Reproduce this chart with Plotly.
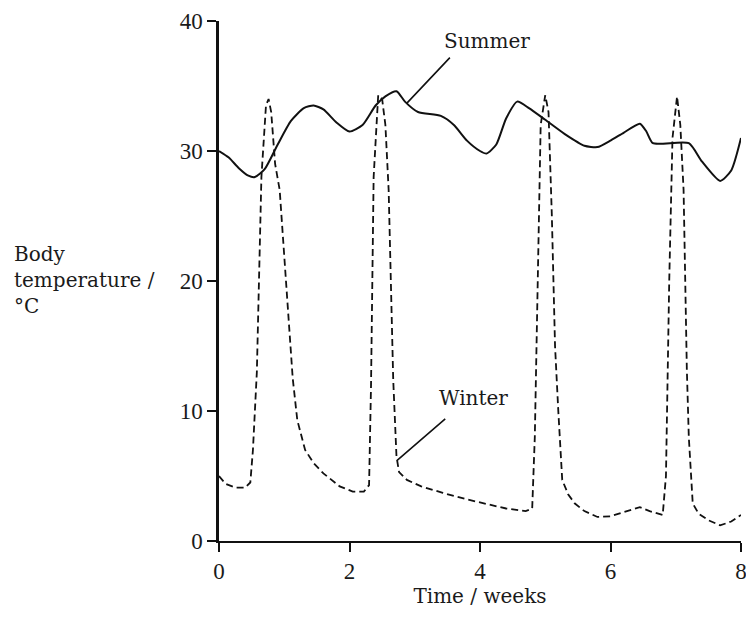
import numpy as np
import plotly.graph_objects as go

# Summer body temperature (solid line)
summer_weeks = [0, 0.15, 0.3, 0.45, 0.55, 0.7, 0.9, 1.1, 1.3, 1.45, 1.6, 1.8, 2.0, 2.2, 2.4, 2.55,
                2.72, 2.85, 3.05, 3.4, 3.6, 3.8, 4.0, 4.1, 4.25, 4.4, 4.57, 4.75, 5.0, 5.3, 5.6,
                5.8, 6.0, 6.2, 6.45, 6.55, 6.65, 7.2, 7.4, 7.68, 7.85, 8.0]
summer_temp = [30, 29.5, 28.7, 28.1, 28.0, 28.6, 30.5, 32.3, 33.3, 33.5, 33.2, 32.2, 31.5, 32.0, 33.5, 34.2,
               34.6, 33.8, 33.0, 32.7, 32.0, 30.8, 30.0, 29.8, 30.5, 32.5, 33.8, 33.3, 32.4, 31.3, 30.4,
               30.3, 30.8, 31.4, 32.1, 31.5, 30.6, 30.6, 29.2, 27.7, 28.5, 31.0]

# Winter body temperature (dashed line)
winter_weeks = [0, 0.1, 0.25, 0.4, 0.48, 0.52, 0.58, 0.65, 0.72, 0.76, 0.8, 0.86, 0.93, 1.03, 1.13, 1.2,
                1.32, 1.45, 1.6, 1.85, 2.05, 2.22, 2.3, 2.33, 2.37, 2.44, 2.5, 2.55, 2.6, 2.67, 2.72,
                2.76, 2.88, 3.1, 3.43, 3.8, 4.15, 4.4, 4.7, 4.8, 4.84, 4.88, 4.93, 5.0, 5.05, 5.1,
                5.15, 5.2, 5.26, 5.35, 5.45, 5.6, 5.8, 6.0, 6.15, 6.3, 6.45, 6.6, 6.8, 6.85, 6.9,
                6.95, 7.02, 7.07, 7.12, 7.17, 7.2, 7.26, 7.35, 7.5, 7.68, 7.85, 8.0]
winter_temp = [5.0, 4.4, 4.1, 4.1, 4.5, 7, 13, 28, 33.5, 34, 33, 29, 27, 20, 12.5, 9.3,
               7.0, 6.0, 5.2, 4.2, 3.8, 3.8, 4.3, 12, 28, 34.3, 34, 32, 27, 12.4, 6.5,
               5.3, 4.7, 4.2, 3.7, 3.2, 2.8, 2.5, 2.3, 2.5, 8, 20, 32, 34.3, 33, 25.2,
               15, 10, 4.7, 3.6, 2.9, 2.3, 1.85, 1.9, 2.15, 2.4, 2.6, 2.3, 2.0, 5, 20,
               31, 34.2, 32, 27, 13.2, 8, 2.9, 2.1, 1.6, 1.2, 1.5, 2.0]

x_ticks = [0, 2, 4, 6, 8]
y_ticks = [0, 10, 20, 30, 40]

# label anchor weeks on each curve, leader tail and label positions (data units)
summer_label = dict(text="Summer", tip_week=2.88, tail=(3.56, 37.3), pos=(4.1, 38.5))
winter_label = dict(text="Winter", tip_week=2.73, tail=(3.49, 9.5), pos=(3.9, 11.0))

TEXT_FONT = dict(family="DejaVu Serif", size=20, color="#1a1a1a")
TICK_FONT = dict(family="Liberation Serif", size=23, color="#1a1a1a")

fig = go.Figure()
fig.add_trace(go.Scatter(x=summer_weeks, y=summer_temp, mode="lines",
                         line=dict(color="#111111", width=2, shape="spline", smoothing=0.6),
                         showlegend=False))
fig.add_trace(go.Scatter(x=winter_weeks, y=winter_temp, mode="lines",
                         line=dict(color="#111111", width=1.8, dash="7px,4px"), showlegend=False))

for lab, xs, ys in [(summer_label, summer_weeks, summer_temp), (winter_label, winter_weeks, winter_temp)]:
    tip_y = float(np.interp(lab["tip_week"], xs, ys))
    fig.add_annotation(x=lab["tip_week"], y=tip_y, ax=lab["tail"][0], ay=lab["tail"][1],
                       axref="x", ayref="y", xref="x", yref="y", text="", showarrow=True,
                       arrowhead=0, arrowwidth=1.6, arrowcolor="#111111", standoff=0, startstandoff=0)
    fig.add_annotation(x=lab["pos"][0], y=lab["pos"][1], xref="x", yref="y", text=lab["text"],
                       showarrow=False, font=TEXT_FONT, xanchor="center", yanchor="middle")

plot_w = 746 - 219 - 5
plot_h = 617 - 21 - 76
fig.add_annotation(x=(12 - 219) / plot_w, y=(617 - 76 - 280) / plot_h, xref="paper", yref="paper",
                   text="Body<br>temperature /<br>°C",
                   showarrow=False, font=TEXT_FONT, align="left", xanchor="left", yanchor="middle")

fig.update_layout(
    width=746, height=617,
    margin=dict(l=219, r=5, t=21, b=76, autoexpand=False),
    paper_bgcolor="white", plot_bgcolor="white",
    xaxis=dict(range=[0, 8], tickvals=x_ticks, ticktext=[str(v) for v in x_ticks],
               showgrid=False, zeroline=False, showline=True, linecolor="#111111", linewidth=1.5,
               ticks="outside", ticklen=9, tickwidth=2, tickcolor="#111111", tickfont=TICK_FONT,
               ticklabeloverflow="allow", automargin=False,
               title=dict(text="Time / weeks", font=TEXT_FONT, standoff=4)),
    yaxis=dict(range=[0, 40], tickvals=y_ticks, ticktext=[str(v) for v in y_ticks],
               showgrid=False, zeroline=False, showline=True, linecolor="#111111", linewidth=2.5,
               ticks="outside", ticklen=9, tickwidth=2, tickcolor="#111111", tickfont=TICK_FONT,
               ticklabeloverflow="allow", automargin=False),
)

fig.write_html("out.html")
